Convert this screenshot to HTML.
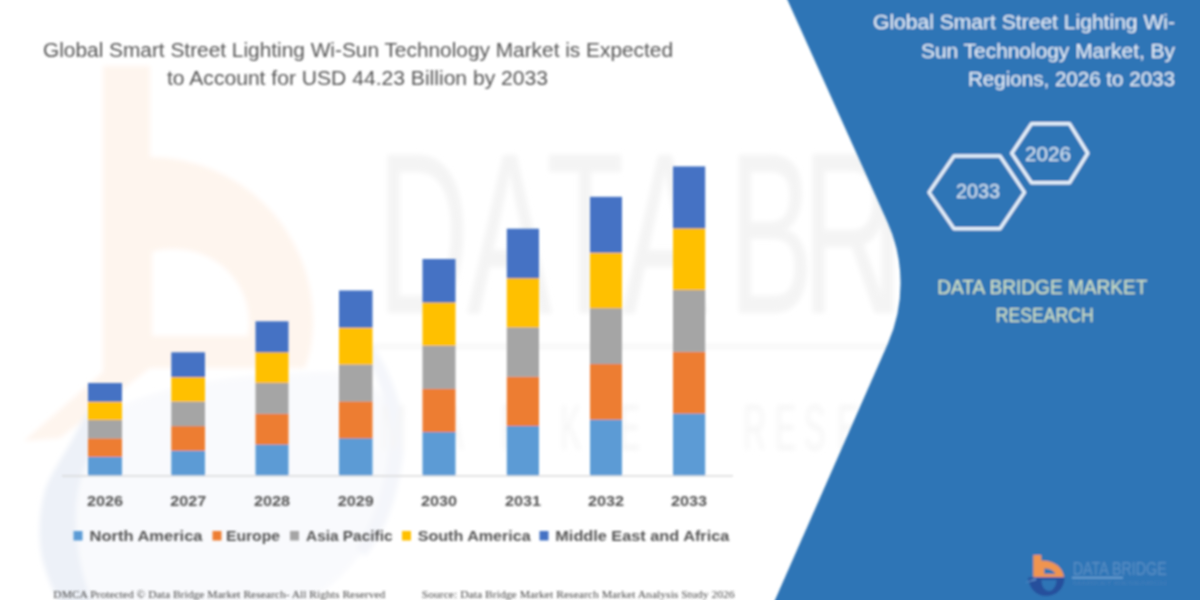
<!DOCTYPE html>
<html lang="en">
<head>
<meta charset="utf-8">
<title>Global Smart Street Lighting Wi-Sun Technology Market</title>
<style>
html,body{margin:0;padding:0;background:#fff;}
body{width:1200px;height:600px;overflow:hidden;position:relative;font-family:"Liberation Sans",sans-serif;}
svg{position:absolute;left:0;top:0;display:block;}
text{font-family:"Liberation Sans",sans-serif;}
.ttl{font-size:19.5px;fill:#555;}
.rt{font-size:19.5px;fill:#eaf2fa;}
.yr{font-size:15.5px;font-weight:bold;fill:#555;}
.lg{font-size:15px;font-weight:bold;fill:#555;}
.hx{font-size:20px;fill:#dbe9f5;}
.dbmr{font-size:20px;fill:#d6e6c4;}
.ft{font-family:"Liberation Serif",serif;font-size:11px;fill:#484848;}
.wm{font-size:230px;fill:#f4f4f4;}
.wm2{font-size:64px;fill:#f6f6f6;}
.lgt{font-size:19px;fill:#5a8fc4;}
.lgs{font-size:5.6px;fill:#457fb9;}
</style>
</head>
<body>
<svg width="1200" height="600" viewBox="0 0 1200 600">
<defs>
<filter id="soft" x="-5%" y="-5%" width="110%" height="110%"><feGaussianBlur stdDeviation="0.9"/></filter>
<filter id="soft2" x="-5%" y="-5%" width="110%" height="110%"><feGaussianBlur stdDeviation="2.6"/></filter>
</defs>
<rect width="1200" height="600" fill="#ffffff"/>

<!-- faint watermark -->
<g filter="url(#soft2)">
<!-- peach b -->
<path d="M103,66 L150,66 L150,157 A163,163 0 0 1 313,320 C313,340 310,355 305,368 L150,368 L60,438 L24,441 L103,372 Z M152,336 L152,252 C160,249 168,249 175,249 A74,74 0 0 1 248,336 Z" fill="#fef5ee" fill-rule="evenodd"/>
<!-- blue swoosh -->
<path d="M104,388 C90,405 80,425 72,440 C62,458 50,475 45,490 C38,515 38,545 44,565 C48,580 54,592 60,605 L94,605 C85,585 80,565 78,545 C74,520 76,495 82,475 C90,450 102,425 118,408 Z" fill="#edf1f8"/>
<path d="M118,408 C160,385 250,372 330,372 C372,372 400,405 398,450 C395,520 352,580 300,605 L94,605 C85,585 80,565 78,545 C74,520 76,495 82,475 C90,450 102,425 118,408 Z" fill="#f9fafd"/>
<path d="M372,345 C398,380 410,430 401,470 C394,510 382,535 366,556 L356,549 C372,522 384,492 388,455 C392,420 384,385 363,352 Z" fill="#f4f6fb"/>
<!-- watermark wordmark -->
<g transform="translate(0,313) scale(0.554,1)"><text x="681 843 986 1123 1256 1315 1448 1570 1637 1805 1986" y="0" class="wm">DATA BRIDGE</text></g>
<rect x="372" y="345" width="520" height="3" fill="#f3f3f3"/>
<g transform="translate(0,450) scale(0.5,1)"><text x="760 884 1002 1120 1238 1356 1430 1486 1550 1608 1674 1736 1800 1860 1920" y="0" class="wm2">MARKET RESEARCH</text></g>
</g>

<g filter="url(#soft)">
<!-- blue panel -->
<path d="M787.5,0 L887.4,221.9 A150,150 0 0 1 887.9,343.6 L770.6,610 L1215,610 L1215,-10 L783,-10 Z" fill="#2E75B6"/>

<!-- axis -->
<rect x="62" y="475.2" width="671" height="1.4" fill="#d9d9d9"/>

<!-- bars -->
<rect x="88" y="456.60" width="34" height="18.70" fill="#5B9BD5"/>
<rect x="88" y="438.20" width="34" height="18.70" fill="#ED7D31"/>
<rect x="88" y="419.80" width="34" height="18.70" fill="#A5A5A5"/>
<rect x="88" y="401.40" width="34" height="18.70" fill="#FFC000"/>
<rect x="88" y="383.00" width="34" height="18.70" fill="#4472C4"/>
<text x="105.0" y="505.5" class="yr" text-anchor="middle" textLength="36" lengthAdjust="spacingAndGlyphs">2026</text>
<rect x="171.3" y="450.46" width="33.69999999999999" height="24.84" fill="#5B9BD5"/>
<rect x="171.3" y="425.92" width="33.69999999999999" height="24.84" fill="#ED7D31"/>
<rect x="171.3" y="401.38" width="33.69999999999999" height="24.84" fill="#A5A5A5"/>
<rect x="171.3" y="376.84" width="33.69999999999999" height="24.84" fill="#FFC000"/>
<rect x="171.3" y="352.30" width="33.69999999999999" height="24.84" fill="#4472C4"/>
<text x="188.2" y="505.5" class="yr" text-anchor="middle" textLength="36" lengthAdjust="spacingAndGlyphs">2027</text>
<rect x="255.5" y="444.26" width="33.0" height="31.04" fill="#5B9BD5"/>
<rect x="255.5" y="413.52" width="33.0" height="31.04" fill="#ED7D31"/>
<rect x="255.5" y="382.78" width="33.0" height="31.04" fill="#A5A5A5"/>
<rect x="255.5" y="352.04" width="33.0" height="31.04" fill="#FFC000"/>
<rect x="255.5" y="321.30" width="33.0" height="31.04" fill="#4472C4"/>
<text x="272.0" y="505.5" class="yr" text-anchor="middle" textLength="36" lengthAdjust="spacingAndGlyphs">2028</text>
<rect x="339" y="438.10" width="33.5" height="37.20" fill="#5B9BD5"/>
<rect x="339" y="401.20" width="33.5" height="37.20" fill="#ED7D31"/>
<rect x="339" y="364.30" width="33.5" height="37.20" fill="#A5A5A5"/>
<rect x="339" y="327.40" width="33.5" height="37.20" fill="#FFC000"/>
<rect x="339" y="290.50" width="33.5" height="37.20" fill="#4472C4"/>
<text x="355.8" y="505.5" class="yr" text-anchor="middle" textLength="36" lengthAdjust="spacingAndGlyphs">2029</text>
<rect x="422.5" y="431.80" width="33.0" height="43.50" fill="#5B9BD5"/>
<rect x="422.5" y="388.60" width="33.0" height="43.50" fill="#ED7D31"/>
<rect x="422.5" y="345.40" width="33.0" height="43.50" fill="#A5A5A5"/>
<rect x="422.5" y="302.20" width="33.0" height="43.50" fill="#FFC000"/>
<rect x="422.5" y="259.00" width="33.0" height="43.50" fill="#4472C4"/>
<text x="439.0" y="505.5" class="yr" text-anchor="middle" textLength="36" lengthAdjust="spacingAndGlyphs">2030</text>
<rect x="506.8" y="425.74" width="32.19999999999999" height="49.56" fill="#5B9BD5"/>
<rect x="506.8" y="376.48" width="32.19999999999999" height="49.56" fill="#ED7D31"/>
<rect x="506.8" y="327.22" width="32.19999999999999" height="49.56" fill="#A5A5A5"/>
<rect x="506.8" y="277.96" width="32.19999999999999" height="49.56" fill="#FFC000"/>
<rect x="506.8" y="228.70" width="32.19999999999999" height="49.56" fill="#4472C4"/>
<text x="522.9" y="505.5" class="yr" text-anchor="middle" textLength="36" lengthAdjust="spacingAndGlyphs">2031</text>
<rect x="590" y="419.36" width="32" height="55.94" fill="#5B9BD5"/>
<rect x="590" y="363.72" width="32" height="55.94" fill="#ED7D31"/>
<rect x="590" y="308.08" width="32" height="55.94" fill="#A5A5A5"/>
<rect x="590" y="252.44" width="32" height="55.94" fill="#FFC000"/>
<rect x="590" y="196.80" width="32" height="55.94" fill="#4472C4"/>
<text x="606.0" y="505.5" class="yr" text-anchor="middle" textLength="36" lengthAdjust="spacingAndGlyphs">2032</text>
<rect x="673" y="413.28" width="32.200000000000045" height="62.02" fill="#5B9BD5"/>
<rect x="673" y="351.56" width="32.200000000000045" height="62.02" fill="#ED7D31"/>
<rect x="673" y="289.84" width="32.200000000000045" height="62.02" fill="#A5A5A5"/>
<rect x="673" y="228.12" width="32.200000000000045" height="62.02" fill="#FFC000"/>
<rect x="673" y="166.40" width="32.200000000000045" height="62.02" fill="#4472C4"/>
<text x="689.1" y="505.5" class="yr" text-anchor="middle" textLength="36" lengthAdjust="spacingAndGlyphs">2033</text>

<!-- legend -->
<rect x="73.5" y="531" width="9" height="9.5" fill="#5B9BD5"/>
<text x="89.5" y="541" class="lg" textLength="113" lengthAdjust="spacingAndGlyphs">North America</text>
<rect x="212.5" y="531" width="9" height="9.5" fill="#ED7D31"/>
<text x="226" y="541" class="lg" textLength="54" lengthAdjust="spacingAndGlyphs">Europe</text>
<rect x="290" y="531" width="9" height="9.5" fill="#A5A5A5"/>
<text x="306" y="541" class="lg" textLength="86.5" lengthAdjust="spacingAndGlyphs">Asia Pacific</text>
<rect x="402" y="531" width="9" height="9.5" fill="#FFC000"/>
<text x="417.7" y="541" class="lg" textLength="113" lengthAdjust="spacingAndGlyphs">South America</text>
<rect x="539.5" y="531" width="9" height="9.5" fill="#4472C4"/>
<text x="555.3" y="541" class="lg" textLength="174" lengthAdjust="spacingAndGlyphs">Middle East and Africa</text>

<!-- title -->
<text x="358" y="56.5" class="ttl" text-anchor="middle" textLength="630" lengthAdjust="spacingAndGlyphs">Global Smart Street Lighting Wi-Sun Technology Market is Expected</text>
<text x="357.5" y="85" class="ttl" text-anchor="middle" textLength="381" lengthAdjust="spacingAndGlyphs">to Account for USD 44.23 Billion by 2033</text>

<!-- right title -->
<text x="1175" y="29.2" class="rt" text-anchor="end" textLength="302" lengthAdjust="spacingAndGlyphs">Global Smart Street Lighting Wi-</text>
<text x="1175" y="58" class="rt" text-anchor="end" textLength="254" lengthAdjust="spacingAndGlyphs">Sun Technology Market, By</text>
<text x="1175" y="85.5" class="rt" text-anchor="end" textLength="207" lengthAdjust="spacingAndGlyphs">Regions, 2026 to 2033</text>

<!-- hexagons -->
<polygon points="929,192.4 954,156 1000,156 1024.5,192.4 1000,228.7 954,228.7" fill="none" stroke="#e6f0fa" stroke-width="3.4" stroke-linejoin="round"/>
<polygon points="1011.75,153.25 1031.5,123.75 1069.5,123.75 1087.75,153.25 1069.5,182.75 1031.5,182.75" fill="none" stroke="#e6f0fa" stroke-width="3.4" stroke-linejoin="round"/>
<text x="978" y="198" class="hx" text-anchor="middle" textLength="44" lengthAdjust="spacingAndGlyphs">2033</text>
<text x="1048" y="161.2" class="hx" text-anchor="middle" textLength="46" lengthAdjust="spacingAndGlyphs">2026</text>

<!-- DBMR -->
<text x="1042.3" y="294" class="dbmr" text-anchor="middle" textLength="210" lengthAdjust="spacingAndGlyphs">DATA BRIDGE MARKET</text>
<text x="1044.7" y="322" class="dbmr" text-anchor="middle" textLength="98" lengthAdjust="spacingAndGlyphs">RESEARCH</text>

<!-- footer -->
<text x="53.3" y="598" class="ft" textLength="332" lengthAdjust="spacingAndGlyphs">DMCA Protected © Data Bridge Market Research- All Rights Reserved</text>
<text x="421.7" y="598" class="ft" textLength="313" lengthAdjust="spacingAndGlyphs">Source: Data Bridge Market Research Market Analysis Study 2026</text>

<!-- logo -->
<g>
<path d="M1033.3,555 L1041.3,555 L1041.3,560.5 C1053,560.5 1062,566 1064,577 L1033.3,577 Z M1044.2,568.5 L1044.2,574 L1055.5,574 C1054,570.5 1050,568.5 1044.2,568.5 Z" fill="#f0944f" fill-rule="evenodd"/>
<path d="M1028,577.5 L1064.5,577.5 C1064.5,588 1057,596 1046,596 C1036,596 1029,588 1028,577.5 Z M1041.5,580 C1041.5,587 1045,591 1049,591 C1053,591 1056.5,586 1056.5,580 Z" fill="#27509c" fill-rule="evenodd"/>
<path d="M1024.5,583 L1036,578.2 L1036,580 Z" fill="#6fa0d6"/>
<text x="1072.7" y="575" class="lgt" textLength="94" lengthAdjust="spacingAndGlyphs">DATA BRIDGE</text>
<rect x="1072" y="577.2" width="51" height="1.2" fill="#86b4de"/>
<text x="1072.7" y="585.4" class="lgs" textLength="94" lengthAdjust="spacingAndGlyphs">MARKET RESEARCH</text>
</g>
</g>
</svg>
</body>
</html>
